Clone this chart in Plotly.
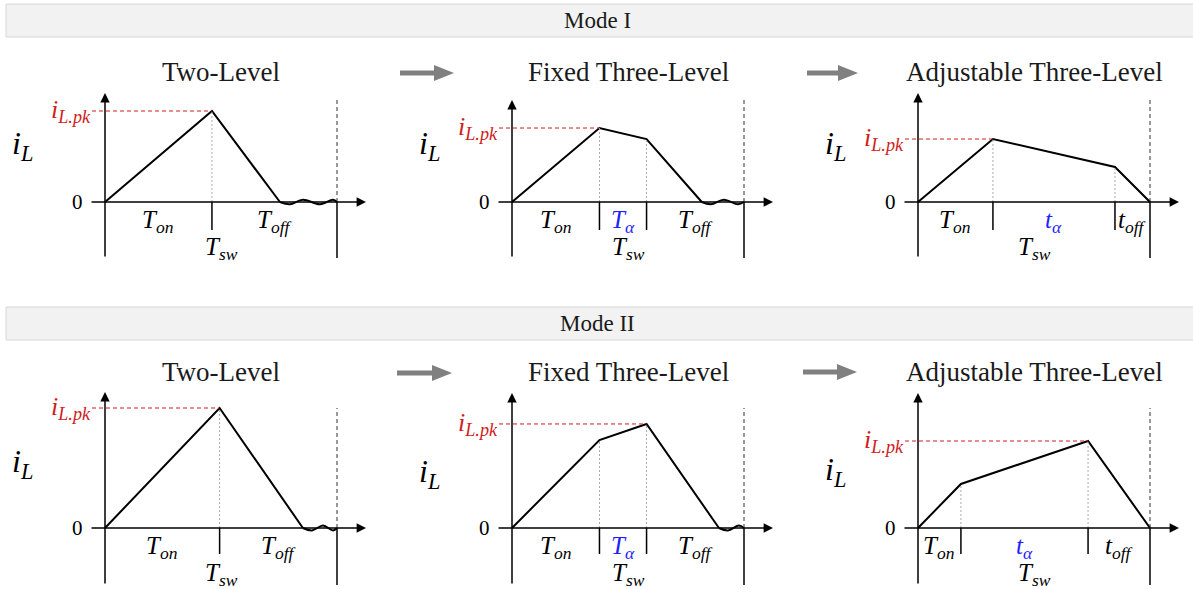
import plotly.graph_objects as go

W, H = 1193, 589

# ---- inductor-current waveforms -------------------------------------------
# time is in units of the switching period Tsw, current is normalised to the
# two-level peak of the same mode
M1_TWO_T = [0.0, 0.461, 0.754]
M1_TWO_I = [0.0, 1.0, 0.0]
M1_TWO_RING_T = [0.754, 0.797, 0.853, 0.927, 0.983, 1.0]
M1_TWO_RING_I = [0.0, -0.025, 0.025, -0.025, 0.025, 0.0]

M1_FIX_T = [0.0, 0.377, 0.580, 0.818]
M1_FIX_I = [0.0, 0.813, 0.692, 0.0]
M1_FIX_RING_T = [0.818, 0.857, 0.913, 0.974, 1.0]
M1_FIX_RING_I = [0.0, -0.025, 0.025, -0.025, 0.0]

M1_ADJ_T = [0.0, 0.323, 0.849, 1.0]
M1_ADJ_I = [0.0, 0.692, 0.385, 0.0]

M2_TWO_T = [0.0, 0.494, 0.853]
M2_TWO_I = [0.0, 1.0, 0.0]
M2_TWO_RING_T = [0.853, 0.892, 0.940, 0.983, 1.0]
M2_TWO_RING_I = [0.0, -0.02, 0.02, -0.02, 0.0]

M2_FIX_T = [0.0, 0.377, 0.580, 0.892]
M2_FIX_I = [0.0, 0.733, 0.867, 0.0]
M2_FIX_RING_T = [0.892, 0.931, 0.978, 1.0]
M2_FIX_RING_I = [0.0, -0.02, 0.02, 0.0]

M2_ADJ_T = [0.0, 0.185, 0.733, 1.0]
M2_ADJ_I = [0.0, 0.367, 0.725, 0.0]

# ---- text ------------------------------------------------------------------
MODES = ["Mode I", "Mode II"]
TITLES = ["Two-Level", "Fixed Three-Level", "Adjustable Three-Level"]
TWO_LEVEL_SEGMENTS = ["T<sub>on</sub>", "T<sub>off</sub>"]
FIXED_SEGMENTS = ["T<sub>on</sub>", "T<sub>α</sub>", "T<sub>off</sub>"]
ADJ_SEGMENTS = ["T<sub>on</sub>", "t<sub>α</sub>", "t<sub>off</sub>"]
PERIOD_LABEL = "T<sub>sw</sub>"
PEAK_LABEL = "i<sub>L.pk</sub>"
CURRENT_LABEL = "i<sub>L</sub>"
ZERO_LABEL = "0"

# ---- styling / geometry (pixels) --------------------------------------------
FONT = "Liberation Serif, Times New Roman, serif"
RED = "#d01c1c"
BLUE = "#1f1fff"
GREY_ARROW = "#808080"
SX = 232                                   # px per Tsw
ORIGIN_X = [105, 512, 918]                 # y-axis position of each column
X_DOMAIN_PX = [(0, 402), (404, 808), (810, 1193)]
ROWS = [
    dict(zero=202, sy=91, top=42, bottom=300, banner=(4, 37),
         title=72, bottom_line=56, dash_top=102, tick=28,
         seg_dy=19, sw_dy=46, tips=[109, 102, 109], il=[57, 57, 57]),
    dict(zero=528, sy=120, top=342, bottom=589, banner=(307, 340),
         title=372, bottom_line=57, dash_top=120, tick=26,
         seg_dy=19, sw_dy=46, tips=[136, 135, 135], il=[65, 55, 57]),
]
ARROWS_PX = [(400, 454, 73), (807, 858, 73), (397, 452, 373), (803, 857, 372)]

PANELS = [
    (0, 0, M1_TWO_T, M1_TWO_I, M1_TWO_RING_T, M1_TWO_RING_I, TWO_LEVEL_SEGMENTS),
    (0, 1, M1_FIX_T, M1_FIX_I, M1_FIX_RING_T, M1_FIX_RING_I, FIXED_SEGMENTS),
    (0, 2, M1_ADJ_T, M1_ADJ_I, None, None, ADJ_SEGMENTS),
    (1, 0, M2_TWO_T, M2_TWO_I, M2_TWO_RING_T, M2_TWO_RING_I, TWO_LEVEL_SEGMENTS),
    (1, 1, M2_FIX_T, M2_FIX_I, M2_FIX_RING_T, M2_FIX_RING_I, FIXED_SEGMENTS),
    (1, 2, M2_ADJ_T, M2_ADJ_I, None, None, ADJ_SEGMENTS),
]


def px_x(px):
    return px / W


def px_y(py):
    return 1 - py / H


def label(**kw):
    base = dict(showarrow=False, xanchor="center", yanchor="middle")
    base.update(kw)
    return base


fig = go.Figure()
shapes, annotations, layout_axes = [], [], {}

for k, (r, c, t, cur, rt, ri, segs) in enumerate(PANELS, start=1):
    row = ROWS[r]
    sy, zero = row["sy"], row["zero"]
    ox = ORIGIN_X[c]
    d0, d1 = X_DOMAIN_PX[c]
    xr = "x" if k == 1 else f"x{k}"
    yr = "y" if k == 1 else f"y{k}"
    layout_axes["xaxis" if k == 1 else f"xaxis{k}"] = dict(
        domain=[px_x(d0), px_x(d1)], range=[(d0 - ox) / SX, (d1 - ox) / SX],
        visible=False, fixedrange=True, anchor=yr)
    layout_axes["yaxis" if k == 1 else f"yaxis{k}"] = dict(
        domain=[px_y(row["bottom"]), px_y(row["top"])],
        range=[(zero - row["bottom"]) / sy, (zero - row["top"]) / sy],
        visible=False, fixedrange=True, anchor=xr)

    dx = 1.0 / SX      # one pixel in time units
    dy = 1.0 / sy      # one pixel in current units
    pk = max(cur)
    t_pk = t[cur.index(pk)]
    ticks = [tt for tt, ii in zip(t, cur) if ii > 0]
    bounds = [0.0] + ticks + [1.0]

    # peak reference line
    shapes.append(dict(type="line", xref=xr, yref=yr, x0=-13 * dx, x1=t_pk,
                       y0=pk, y1=pk, line=dict(color=RED, width=1, dash="4px,3px")))
    # projections of the corner points onto the time axis
    for tt, ii in zip(t, cur):
        if ii > 0:
            shapes.append(dict(type="line", xref=xr, yref=yr, x0=tt, x1=tt, y0=0, y1=ii,
                               line=dict(color="#a8a8a8", width=1, dash="2px,2px")))
            shapes.append(dict(type="line", xref=xr, yref=yr, x0=tt, x1=tt, y0=0,
                               y1=-row["tick"] * dy, line=dict(color="black", width=1.5)))
    # end of the switching period
    shapes.append(dict(type="line", xref=xr, yref=yr, x0=1, x1=1, y0=0,
                       y1=row["dash_top"] * dy, line=dict(color="#333333", width=1, dash="4px,3px")))
    shapes.append(dict(type="line", xref=xr, yref=yr, x0=1, x1=1, y0=0,
                       y1=-row["bottom_line"] * dy, line=dict(color="black", width=1.5)))

    # axes with arrow heads
    annotations.append(dict(xref=xr, yref=yr, axref=xr, ayref=yr, x=0, y=row["tips"][c] * dy,
                            ax=0, ay=-row["bottom_line"] * dy, text="", showarrow=True,
                            arrowhead=2, arrowsize=1.25, arrowwidth=1.5, arrowcolor="black",
                            standoff=0, startstandoff=0))
    annotations.append(dict(xref=xr, yref=yr, axref=xr, ayref=yr, x=1 + 29 * dx, y=0,
                            ax=-15 * dx, ay=0, text="", showarrow=True,
                            arrowhead=2, arrowsize=1.25, arrowwidth=1.5, arrowcolor="black",
                            standoff=0, startstandoff=0))

    # waveform
    fig.add_trace(go.Scatter(x=t, y=cur, xaxis=xr, yaxis=yr, mode="lines",
                             line=dict(color="black", width=2), hoverinfo="skip",
                             showlegend=False))
    if rt is not None:
        fig.add_trace(go.Scatter(x=rt, y=ri, xaxis=xr, yaxis=yr, mode="lines",
                                 line=dict(color="black", width=2, shape="spline"),
                                 hoverinfo="skip", showlegend=False))

    # labels
    for j, s in enumerate(segs):
        colr = BLUE if "α" in s else "black"
        annotations.append(label(xref=xr, yref=yr, x=(bounds[j] + bounds[j + 1]) / 2, y=0,
                                 yshift=-row["seg_dy"], text=f"<i>{s}</i>",
                                 font=dict(family=FONT, size=25, color=colr)))
    annotations.append(label(xref=xr, yref=yr, x=0.5, y=0, yshift=-row["sw_dy"],
                             text=f"<i>{PERIOD_LABEL}</i>",
                             font=dict(family=FONT, size=25, color="black")))
    annotations.append(label(xref=xr, yref=yr, x=-12 * dx, y=pk, xanchor="right",
                             text=f"<i>{PEAK_LABEL}</i>",
                             font=dict(family=FONT, size=26, color=RED)))
    annotations.append(label(xref=xr, yref=yr, x=-20 * dx, y=0, xanchor="right",
                             text=ZERO_LABEL,
                             font=dict(family=FONT, size=21, color="black")))
    annotations.append(label(xref=xr, yref=yr, x=-83 * dx, y=row["il"][c] * dy,
                             text=f"<i>{CURRENT_LABEL}</i>",
                             font=dict(family=FONT, size=32, color="black")))
    annotations.append(label(xref=xr, yref="paper", x=0.5, y=px_y(row["title"]),
                             text=TITLES[c],
                             font=dict(family=FONT, size=27, color="#1a1a1a")))

# mode banners
for r, row in enumerate(ROWS):
    b0, b1 = row["banner"]
    shapes.append(dict(type="rect", xref="paper", yref="paper", x0=px_x(6), x1=px_x(1200),
                       y0=px_y(b1), y1=px_y(b0), fillcolor="#f2f2f2",
                       line=dict(color="#d6d6d6", width=1), layer="below"))
    annotations.append(label(xref="paper", yref="paper", x=px_x(597), y=px_y((b0 + b1) / 2),
                             text=MODES[r],
                             font=dict(family=FONT, size=23, color="#1a1a1a")))

# transition arrows between the schemes
for x0, x1, yy in ARROWS_PX:
    shapes.append(dict(type="line", xref="paper", yref="paper", x0=px_x(x0), x1=px_x(x1 - 18),
                       y0=px_y(yy), y1=px_y(yy), line=dict(color=GREY_ARROW, width=5)))
    path = (f"M{px_x(x1 - 20)},{px_y(yy - 8)} L{px_x(x1)},{px_y(yy)} "
            f"L{px_x(x1 - 20)},{px_y(yy + 8)} Z")
    shapes.append(dict(type="path", xref="paper", yref="paper", path=path,
                       fillcolor=GREY_ARROW, line=dict(color=GREY_ARROW, width=0)))

fig.update_layout(
    width=W, height=H, autosize=False,
    margin=dict(l=0, r=0, t=0, b=0, pad=0),
    paper_bgcolor="white", plot_bgcolor="rgba(0,0,0,0)",
    shapes=shapes, annotations=annotations, showlegend=False,
    **layout_axes,
)

fig.write_html("out.html", config={"displayModeBar": False})
